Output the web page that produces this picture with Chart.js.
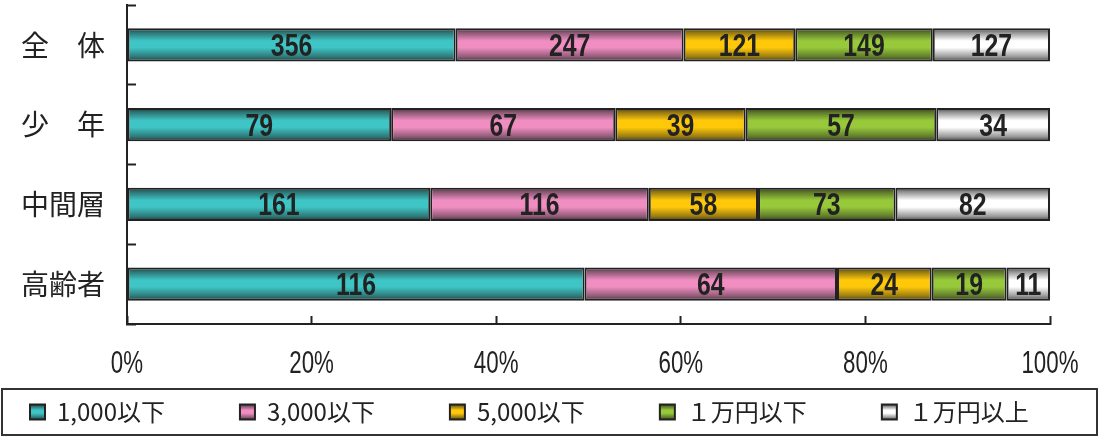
<!DOCTYPE html>
<html>
<head>
<meta charset="utf-8">
<script src="https://cdn.jsdelivr.net/npm/chart.js@4/dist/chart.umd.min.js"></script>
<style>
  html, body { margin: 0; padding: 0; background: #ffffff; }
  #wrap { width: 1099px; height: 437px; }
</style>
</head>
<body>
<div id="wrap"><canvas id="c" width="1099" height="437"></canvas></div>
<script>
// Survey counts by group and amount band
const categories = ['全　体', '少　年', '中間層', '高齢者'];
const seriesNames = ['1,000以下', '3,000以下', '5,000以下', '１万円以下', '１万円以上'];
const under1000 = [356, 79, 161, 116];
const under3000 = [247, 67, 116, 64];
const under5000 = [121, 39, 58, 24];
const under10000 = [149, 57, 73, 19];
const over10000 = [127, 34, 82, 11];
const seriesColors = ['#3fc5c5', '#f08ec2', '#ffc90a', '#97c93a', '#ffffff'];
const INK = '#222222';
const BAR_PCT = 0.42;
const NUM_FACE = '"Liberation Sans", Arial, sans-serif';
const JP_FACE = '"Noto Sans CJK JP", sans-serif';

const seriesCounts = [under1000, under3000, under5000, under10000, over10000];
const totals = categories.map((_, j) => seriesCounts.reduce((s, arr) => s + arr[j], 0));

function mix(hex, dark, f) {
  const a = parseInt(hex.slice(1), 16), b = parseInt(dark.slice(1), 16);
  const ch = (v, s) => (v >> s) & 255;
  const r = Math.round(ch(a, 16) * (1 - f) + ch(b, 16) * f);
  const g = Math.round(ch(a, 8) * (1 - f) + ch(b, 8) * f);
  const bl = Math.round(ch(a, 0) * (1 - f) + ch(b, 0) * f);
  return 'rgb(' + r + ',' + g + ',' + bl + ')';
}

// Vertical tube shading between y0 and y1
function tube(cctx, base, y0, y1) {
  const g = cctx.createLinearGradient(0, y0, 0, y1);
  const dk = '#1a1a1a';
  g.addColorStop(0, mix(base, dk, 0.85));
  g.addColorStop(0.12, mix(base, dk, 0.5));
  g.addColorStop(0.38, base);
  g.addColorStop(0.58, base);
  g.addColorStop(0.86, mix(base, dk, 0.45));
  g.addColorStop(1, mix(base, dk, 0.85));
  return g;
}

function barFill(i) {
  return (ctx) => {
    const base = seriesColors[i];
    if (ctx.type !== 'data') return base;
    const chart = ctx.chart;
    const ys = chart.scales.y;
    if (!ys || !chart.chartArea) return base;
    const c = ys.getPixelForValue(ctx.dataIndex);
    const h = (ys.bottom - ys.top) / categories.length * BAR_PCT / 2;
    return tube(chart.ctx, base, c - h, c + h);
  };
}

const datasets = seriesNames.map((name, i) => ({
  label: name,
  data: seriesCounts[i].map((v, j) => v / totals[j] * 100),
  backgroundColor: barFill(i),
  borderColor: INK,
  borderWidth: 2,
  borderSkipped: false,
  barPercentage: BAR_PCT,
  categoryPercentage: 1
}));

// Draws a condensed string centred at (x, baseline)
function condensedText(ctx, text, x, y, font, squeeze) {
  ctx.save();
  ctx.font = font;
  ctx.textAlign = 'center';
  ctx.textBaseline = 'alphabetic';
  ctx.translate(x, y);
  ctx.scale(squeeze, 1);
  ctx.fillText(text, 0, 0);
  ctx.restore();
}

// Count labels centred on each segment
const segmentLabels = {
  id: 'segmentLabels',
  afterDatasetsDraw(chart) {
    const ctx = chart.ctx;
    ctx.save();
    ctx.fillStyle = INK;
    chart.data.datasets.forEach((ds, i) => {
      const meta = chart.getDatasetMeta(i);
      meta.data.forEach((el, j) => {
        const p = el.getProps(['x', 'y', 'base'], true);
        condensedText(ctx, String(seriesCounts[i][j]), (p.x + p.base) / 2, p.y + 11,
          'bold 31px ' + NUM_FACE, 0.8);
      });
    });
    ctx.restore();
  }
};

// Percent labels under the value axis, placed at the scale's own ticks
const percentLabels = {
  id: 'percentLabels',
  afterDraw(chart) {
    const xs = chart.scales.x;
    const ctx = chart.ctx;
    ctx.save();
    ctx.fillStyle = INK;
    xs.ticks.forEach((t) => {
      condensedText(ctx, t.value + '%', xs.getPixelForValue(t.value), xs.top + 49,
        '31px ' + NUM_FACE, 0.72);
    });
    ctx.restore();
  }
};

// Legend row placement and its surrounding frame
const LEGEND_ROW_TOP = 400;
const legendFrame = {
  id: 'legendFrame',
  afterLayout(chart) {
    const lg = chart.legend;
    const pad = lg.options.labels.padding;
    lg.top = LEGEND_ROW_TOP - pad;
    lg.left = 30 - pad;
    lg.right = 10000;
  },
  afterDraw(chart) {
    const ctx = chart.ctx;
    ctx.save();
    ctx.strokeStyle = '#333333';
    ctx.lineWidth = 2;
    ctx.strokeRect(2, 389, chart.width - 4, 46);
    ctx.restore();
  }
};

new Chart(document.getElementById('c'), {
  type: 'bar',
  data: { labels: categories, datasets },
  options: {
    indexAxis: 'y',
    responsive: false,
    animation: false,
    events: [],
    layout: { padding: { top: 5, right: 49, bottom: 2, left: 0 } },
    scales: {
      x: {
        stacked: true,
        min: 0,
        max: 100,
        ticks: { stepSize: 20, display: false },
        grid: { drawOnChartArea: false, tickLength: -8, tickColor: INK, tickWidth: 2 },
        border: { color: INK, width: 2 },
        afterFit(s) { s.height = 61; s.paddingLeft = 0; s.paddingRight = 0; }
      },
      y: {
        stacked: true,
        ticks: {
          color: INK,
          font: { family: JP_FACE, size: 28 },
          padding: 31
        },
        grid: { drawOnChartArea: false, offset: true, tickLength: -9, tickColor: INK, tickWidth: 2 },
        border: { color: INK, width: 2 },
        afterFit(s) { s.width = 127; s.paddingTop = 0; s.paddingBottom = 0; }
      }
    },
    plugins: {
      tooltip: { enabled: false },
      legend: {
        position: 'bottom',
        align: 'start',
        maxHeight: 50,
        labels: {
          boxWidth: 15,
          boxHeight: 15,
          padding: 75,
          color: INK,
          font: { family: JP_FACE, size: 24 },
          generateLabels(chart) {
            const items = Chart.defaults.plugins.legend.labels.generateLabels(chart);
            const boxTop = LEGEND_ROW_TOP + (24 - 15) / 2;
            items.forEach((it, i) => {
              it.fillStyle = tube(chart.ctx, seriesColors[i], boxTop, boxTop + 15);
              it.strokeStyle = INK;
              it.lineWidth = 2;
            });
            return items;
          }
        }
      }
    }
  },
  plugins: [segmentLabels, percentLabels, legendFrame]
});
</script>
</body>
</html>
